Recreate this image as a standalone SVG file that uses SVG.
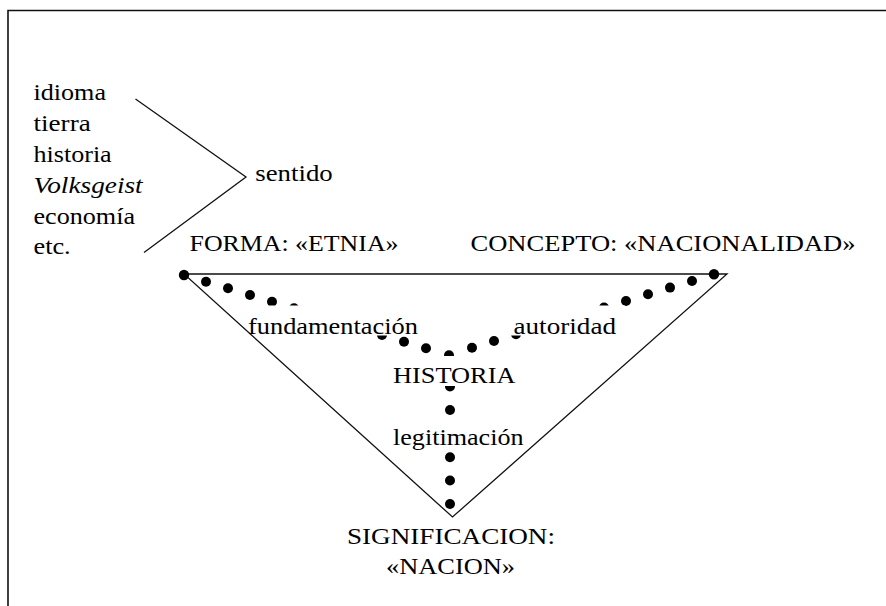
<svg xmlns="http://www.w3.org/2000/svg" width="886" height="606" viewBox="0 0 886 606">
  <style>
    .t { font-family: "Liberation Serif", "Times New Roman", serif; font-size: 23px; fill: #000; }
    .i { font-style: italic; }
    .ln { stroke: #111; stroke-width: 1.3; fill: none; }
    .fr { stroke: #111; stroke-width: 1.6; fill: none; }
    .dot { fill: #000; }
  </style>
  <defs>
    <mask id="textHoles" maskUnits="userSpaceOnUse" x="0" y="0" width="886" height="606">
      <rect x="0" y="0" width="886" height="606" fill="#fff"/>
      <rect x="240" y="305.5" width="185" height="30" fill="#000"/>
      <rect x="505" y="305.5" width="120" height="30" fill="#000"/>
      <rect x="385" y="356" width="140" height="30" fill="#000"/>
      <rect x="385" y="424" width="145" height="24" fill="#000"/>
    </mask>
  </defs>
  <rect x="0" y="0" width="886" height="606" fill="#fff"/>

  <!-- frame -->
  <path class="fr" d="M8 606 V10.5 H886"/>

  <!-- connectors -->
  <g id="connectors">
    <path id="bracket" class="ln" d="M135.5 99 L246 177 L144 252.5"/>
    <polygon id="triangle" class="ln" points="184,274 727,274 452.5,517"/>
    <g id="dotted-paths" mask="url(#textHoles)">
      <!-- left arm: FORMA to HISTORIA -->
      <circle class="dot" cx="184" cy="275" r="5.2"/>
      <circle class="dot" cx="206" cy="281.7" r="5"/>
      <circle class="dot" cx="228" cy="288.3" r="5"/>
      <circle class="dot" cx="250" cy="295" r="5"/>
      <circle class="dot" cx="272" cy="301.7" r="5"/>
      <circle class="dot" cx="294" cy="308.3" r="5"/>
      <circle class="dot" cx="382" cy="335" r="5"/>
      <circle class="dot" cx="404" cy="341.7" r="5"/>
      <circle class="dot" cx="426" cy="348.3" r="5"/>
      <!-- junction -->
      <circle class="dot" cx="449" cy="355.3" r="5"/>
      <!-- right arm: CONCEPTO to HISTORIA -->
      <circle class="dot" cx="714" cy="274.3" r="5.2"/>
      <circle class="dot" cx="692" cy="281" r="5"/>
      <circle class="dot" cx="670" cy="287.6" r="5"/>
      <circle class="dot" cx="648" cy="294.3" r="5"/>
      <circle class="dot" cx="626" cy="301" r="5"/>
      <circle class="dot" cx="604" cy="307.6" r="5"/>
      <circle class="dot" cx="516" cy="334.3" r="5"/>
      <circle class="dot" cx="494" cy="341" r="5"/>
      <circle class="dot" cx="472" cy="347.7" r="5"/>
      <!-- vertical: HISTORIA to SIGNIFICACION -->
      <circle class="dot" cx="450" cy="386.5" r="5"/>
      <circle class="dot" cx="450" cy="410" r="5"/>
      <circle class="dot" cx="450" cy="457.3" r="5"/>
      <circle class="dot" cx="450" cy="480.5" r="5"/>
      <circle class="dot" cx="450" cy="504" r="5"/>
    </g>
  </g>

  <!-- nodes -->
  <g id="list">
    <text class="t" x="33.5" y="100" textLength="72.5" lengthAdjust="spacingAndGlyphs">idioma</text>
    <text class="t" x="33.5" y="131" textLength="57.2" lengthAdjust="spacingAndGlyphs">tierra</text>
    <text class="t" x="33.5" y="162" textLength="78.2" lengthAdjust="spacingAndGlyphs">historia</text>
    <text class="t i" x="33.5" y="193" textLength="109.2" lengthAdjust="spacingAndGlyphs">Volksgeist</text>
    <text class="t" x="33.5" y="224" textLength="101.5" lengthAdjust="spacingAndGlyphs">economía</text>
    <text class="t" x="33.5" y="254" textLength="37.2" lengthAdjust="spacingAndGlyphs">etc.</text>
  </g>
  <g id="sentido">
    <text class="t" x="255.3" y="181" textLength="77.4" lengthAdjust="spacingAndGlyphs">sentido</text>
  </g>
  <g id="forma">
    <text class="t" x="189.5" y="251" textLength="209" lengthAdjust="spacingAndGlyphs">FORMA: «ETNIA»</text>
  </g>
  <g id="concepto">
    <text class="t" x="470.5" y="251" textLength="385" lengthAdjust="spacingAndGlyphs">CONCEPTO: «NACIONALIDAD»</text>
  </g>
  <g id="fundamentacion">
    <text class="t" x="248" y="334" textLength="170" lengthAdjust="spacingAndGlyphs">fundamentación</text>
  </g>
  <g id="autoridad">
    <text class="t" x="513.5" y="334" textLength="102.5" lengthAdjust="spacingAndGlyphs">autoridad</text>
  </g>
  <g id="historia">
    <text class="t" x="393" y="383" textLength="122.5" lengthAdjust="spacingAndGlyphs">HISTORIA</text>
  </g>
  <g id="legitimacion">
    <text class="t" x="393" y="445" textLength="130.5" lengthAdjust="spacingAndGlyphs">legitimación</text>
  </g>
  <g id="significacion">
    <text class="t" x="347" y="543.5" textLength="208" lengthAdjust="spacingAndGlyphs">SIGNIFICACION:</text>
    <text class="t" x="386" y="573.5" textLength="129" lengthAdjust="spacingAndGlyphs">«NACION»</text>
  </g>
</svg>
